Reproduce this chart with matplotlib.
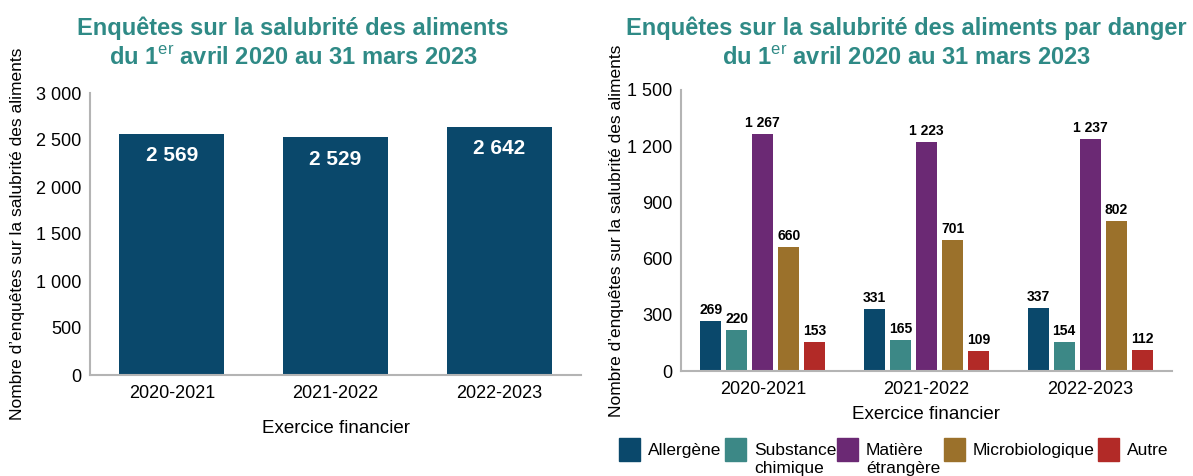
import matplotlib
matplotlib.use("Agg")
import matplotlib.pyplot as plt
from matplotlib.patches import Rectangle
import numpy as np

plt.rcParams['font.family'] = ['Liberation Sans', 'DejaVu Sans']
plt.rcParams['mathtext.fontset'] = 'custom'
plt.rcParams['mathtext.rm'] = 'Liberation Sans'
plt.rcParams['mathtext.bf'] = 'Liberation Sans:bold'

# data
years = ["2020-2021", "2021-2022", "2022-2023"]
total = [2569, 2529, 2642]

dangers = ["Allergène", "Substance\nchimique", "Matière\nétrangère", "Microbiologique", "Autre"]
allergene = [269, 331, 337]
chimique = [220, 165, 154]
etrangere = [1267, 1223, 1237]
microbio = [660, 701, 802]
autre = [153, 109, 112]

left_ticks = [0, 500, 1000, 1500, 2000, 2500, 3000]
right_ticks = [0, 300, 600, 900, 1200, 1500]

# style
navy = "#0A486B"
colors = [navy, "#3C8886", "#6B2974", "#9B712B", "#B22A27"]
title_col = "#2F8A86"
spine_col = "#B4B4B4"

W, H = 1193, 476


def fmt(v):
    return f"{v:,}".replace(",", " ")


def style_axes(ax, ticks):
    for s in ["top", "right"]:
        ax.spines[s].set_visible(False)
    for s in ["left", "bottom"]:
        ax.spines[s].set_color(spine_col)
        ax.spines[s].set_linewidth(1.5)
    ax.set_yticks(ticks)
    ax.set_yticklabels([fmt(t) for t in ticks])
    ax.set_ylim(0, ticks[-1])
    ax.set_xlim(-0.5, 2.5)
    ax.set_xticks(range(len(years)))
    ax.set_xticklabels(years)
    ax.tick_params(axis="y", length=0, labelsize=13, pad=6)
    ax.tick_params(axis="x", length=0, labelsize=13, pad=7)


fig = plt.figure(figsize=(W / 100, H / 100), dpi=100)

# left chart
ax1 = fig.add_axes([90 / W, 1 - 375 / H, (581 - 90) / W, (375 - 93) / H])
style_axes(ax1, left_ticks)
x = np.arange(len(years))
ax1.bar(x, total, width=0.64, color=navy)
for xi, v in zip(x, total):
    ax1.annotate(fmt(v), (xi, v), xytext=(0, -22), textcoords="offset pixels",
                 ha="center", va="center", color="white", fontsize=15, fontweight="bold")
ax1.set_ylabel("Nombre d’enquêtes sur la salubrité des aliments", fontsize=12.5)
ax1.yaxis.set_label_coords(-0.132, 0.5)
ax1.set_xlabel("Exercice financier", fontsize=13.5)
ax1.xaxis.set_label_coords(0.5, -0.16)

# right chart
ax2 = fig.add_axes([681 / W, 1 - 371 / H, (1172 - 681) / W, (371 - 90) / H])
style_axes(ax2, right_ticks)
series = [allergene, chimique, etrangere, microbio, autre]
pitch = 0.159
for i, (vals, c) in enumerate(zip(series, colors)):
    xs = x + (i - 2) * pitch
    ax2.bar(xs, vals, width=0.128, color=c)
    for xi, v in zip(xs, vals):
        ax2.annotate(fmt(v), (xi, v), xytext=(0, 4), textcoords="offset pixels",
                     ha="center", va="bottom", fontsize=10, fontweight="bold")
ax2.set_ylabel("Nombre d’enquêtes sur la salubrité des aliments", fontsize=12.5)
ax2.yaxis.set_label_coords(-0.116, 0.5)
ax2.set_xlabel("Exercice financier", fontsize=13.5)
ax2.xaxis.set_label_coords(0.5, -0.125)

# titles
sub = "du 1$^{\\rm er}$ avril 2020 au 31 mars 2023"
fig.text(293 / W, 1 - 28 / H, "Enquêtes sur la salubrité des aliments", ha="center", va="center",
         fontsize=17, fontweight="bold", color=title_col)
fig.text(293 / W, 1 - 58 / H, sub, ha="center", va="center",
         fontsize=17, fontweight="bold", color=title_col)
fig.text(906 / W, 1 - 28 / H, "Enquêtes sur la salubrité des aliments par danger", ha="center", va="center",
         fontsize=17, fontweight="bold", color=title_col)
fig.text(906 / W, 1 - 58 / H, sub, ha="center", va="center",
         fontsize=17, fontweight="bold", color=title_col)

# legend (drawn by hand so the swatch lines up with the first text line)
legend_x = [619, 725, 837, 944, 1098]
for lx, lab, c in zip(legend_x, dangers, colors):
    fig.add_artist(Rectangle((lx / W, 1 - 461 / H), 21 / W, 23 / H, color=c,
                             transform=fig.transFigure))
    fig.text((lx + 29) / W, 1 - 443 / H, lab, ha="left", va="top", fontsize=12.5,
             linespacing=1.25)

fig.savefig("out.png", dpi=100)
